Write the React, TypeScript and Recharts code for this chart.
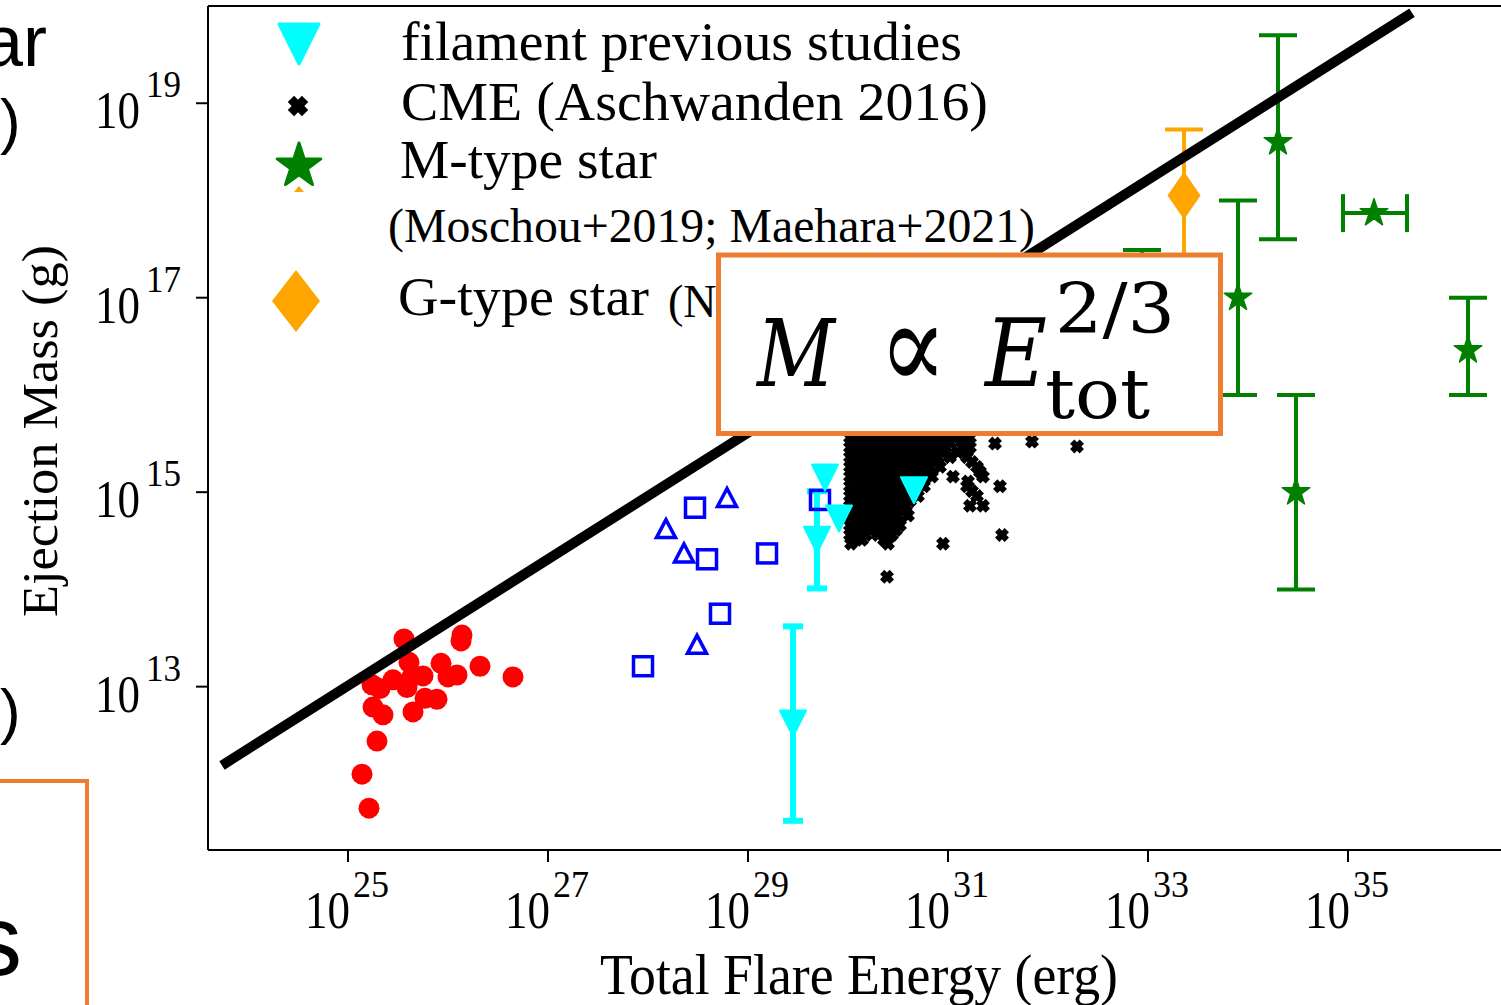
import React from 'react';
import { ScatterChart, Scatter, XAxis, YAxis, ErrorBar, ReferenceLine } from 'recharts';

// All values are base-10 exponents: energy in erg, mass in g.

// solar flares (red dots)
const flareE = [25.56, 26.14, 26.13, 25.61, 25.93, 26.32, 26.65, 25.45, 25.24, 25.32, 25.59, 25.75, 26.0, 26.09, 25.64, 25.25, 25.35, 25.65, 25.77, 25.89, 25.29, 25.14, 25.21];
const flareM = [13.49, 13.53, 13.47, 13.25, 13.24, 13.21, 13.1, 13.07, 13.02, 12.98, 12.99, 13.11, 13.1, 13.12, 13.1, 12.79, 12.71, 12.74, 12.88, 12.87, 12.44, 12.1, 11.75];

// filament eruptions (open blue squares / triangles)
const squareE = [28.47, 28.59, 29.19, 28.72, 27.95, 29.72];
const squareM = [14.84, 14.31, 14.37, 13.75, 13.21, 14.92];
const triE = [28.79, 28.18, 28.36, 28.49];
const triM = [14.94, 14.62, 14.37, 13.43];

// filament previous studies (cyan)
const filE = [29.77, 29.91, 30.66];
const filM = [15.15, 14.73, 15.02];
const filBarE = [29.69, 29.45];
const filBarM = [14.51, 12.62];
const filBarErr = [0.5, 1.0];

// CME (Aschwanden 2016), listed row by row in mass
const cmeRows: { m: number; e: number[] }[] = [
  { m: 16.35, e: [30.5] },
  { m: 16.15, e: [30.35, 30.6] },
  { m: 15.98, e: [30.2, 30.4, 30.6, 30.8] },
  { m: 15.82, e: [30.1, 30.25, 30.4, 30.55, 30.7, 30.85, 31.0] },
  { m: 15.68, e: [30.05, 30.15, 30.25, 30.35, 30.45, 30.55, 30.65, 30.75, 30.85, 30.95, 31.05] },
  { m: 15.56, e: [30.02, 30.1, 30.18, 30.26, 30.34, 30.42, 30.5, 30.58, 30.66, 30.74, 30.82, 30.9, 30.98, 31.06, 31.14, 31.22] },
  { m: 15.51, e: [30.06, 30.14, 30.22, 30.3, 30.38, 30.46, 30.54, 30.62, 30.7, 30.78, 30.86, 30.94, 31.02, 31.18] },
  { m: 15.46, e: [30.02, 30.1, 30.18, 30.26, 30.34, 30.42, 30.5, 30.58, 30.66, 30.74, 30.82, 30.9, 30.98, 31.14, 31.22] },
  { m: 15.41, e: [30.06, 30.14, 30.22, 30.3, 30.38, 30.46, 30.54, 30.62, 30.7, 30.78, 30.86, 30.94, 31.1] },
  { m: 15.36, e: [30.02, 30.1, 30.18, 30.26, 30.34, 30.42, 30.5, 30.58, 30.66, 30.74, 30.82, 30.9, 31.02, 31.19] },
  { m: 15.31, e: [30.06, 30.14, 30.22, 30.3, 30.38, 30.46, 30.54, 30.62, 30.7, 30.78, 30.86, 31.24] },
  { m: 15.26, e: [30.02, 30.1, 30.18, 30.26, 30.34, 30.42, 30.5, 30.58, 30.66, 30.74, 30.82, 30.92, 31.29] },
  { m: 15.21, e: [30.06, 30.14, 30.22, 30.3, 30.38, 30.46, 30.54, 30.62, 30.7, 30.78, 31.32] },
  { m: 15.16, e: [30.02, 30.1, 30.18, 30.26, 30.34, 30.42, 30.5, 30.58, 30.66, 30.74, 30.84, 31.05, 31.35] },
  { m: 15.11, e: [30.06, 30.14, 30.22, 30.3, 30.38, 30.46, 30.54, 30.62, 30.7, 31.2] },
  { m: 15.06, e: [30.02, 30.1, 30.18, 30.26, 30.34, 30.42, 30.5, 30.58, 30.66, 30.76, 31.19, 31.52] },
  { m: 15.01, e: [30.06, 30.14, 30.22, 30.3, 30.38, 30.46, 30.54, 30.64, 31.24] },
  { m: 14.96, e: [30.02, 30.1, 30.18, 30.26, 30.34, 30.42, 30.5, 30.58, 30.7, 31.29] },
  { m: 14.91, e: [30.06, 30.14, 30.22, 30.3, 30.38, 30.46, 30.54, 30.62] },
  { m: 14.86, e: [30.02, 30.1, 30.18, 30.26, 30.34, 30.42, 30.5, 30.58, 31.22, 31.35] },
  { m: 14.81, e: [30.06, 30.14, 30.22, 30.3, 30.38, 30.46, 30.54] },
  { m: 14.76, e: [30.02, 30.1, 30.18, 30.26, 30.34, 30.42, 30.5, 30.6] },
  { m: 14.71, e: [30.06, 30.14, 30.22, 30.3, 30.38, 30.46] },
  { m: 14.66, e: [30.02, 30.1, 30.18, 30.26, 30.34, 30.42, 30.52] },
  { m: 14.61, e: [30.06, 30.14, 30.22, 30.34, 30.48] },
  { m: 14.56, e: [30.02, 30.1, 30.18, 30.3, 30.44, 31.54] },
  { m: 14.51, e: [30.06, 30.14, 30.36] },
  { m: 14.47, e: [30.03, 30.4, 30.95] },
  { m: 14.13, e: [30.39] },
];
const cmeLooseE = [31.47, 31.84, 32.29];
const cmeLooseM = [15.5, 15.52, 15.47];

// M-type stars, vertical error bars
const mStarE = [32.94, 33.9, 34.3, 34.48, 36.2];
const mStarM = [16.99, 17.0, 18.6, 15.0, 16.46];
const mStarLo = [0.5, 1.0, 1.0, 1.0, 0.46];
const mStarHi = [0.5, 1.0, 1.1, 1.0, 0.54];
// M-type star with a horizontal error bar
const mStarXE = [35.26];
const mStarXM = [17.87];
const mStarXLo = [0.31];
const mStarXHi = [0.33];

// G-type star
const gStarE = [33.36];
const gStarM = [18.05];
const gStarErr = [0.68];

// M ∝ E^(2/3) guide line end points
const fitE = [23.74, 35.64];
const fitM = [12.19, 19.93];

const xTicks = [25, 27, 29, 31, 33, 35];
const yTicks = [13, 15, 17, 19];
const xDomain: [number, number] = [23.6, 36.62];
const yDomain: [number, number] = [11.32, 20];

const pts = (es: number[], ms: number[]) => es.map((e, i) => ({ e, m: ms[i] }));
const flares = pts(flareE, flareM);
const squares = pts(squareE, squareM);
const tris = pts(triE, triM);
const filaments = pts(filE, filM);
const filamentBars = filBarE.map((e, i) => ({ e, m: filBarM[i], err: filBarErr[i] }));
const cme = [
  ...cmeRows.flatMap((row) => row.e.map((e) => ({ e, m: row.m }))),
  ...pts(cmeLooseE, cmeLooseM),
];
const mStars = mStarE.map((e, i) => ({ e, m: mStarM[i], err: [mStarLo[i], mStarHi[i]] }));
const mStarsX = mStarXE.map((e, i) => ({ e, m: mStarXM[i], err: [mStarXLo[i], mStarXHi[i]] }));
const gStars = gStarE.map((e, i) => ({ e, m: gStarM[i], err: gStarErr[i] }));
const fitLine = pts(fitE, fitM);

const serif = '"Liberation Serif", "Times New Roman", serif';
const sans = '"Liberation Sans", Arial, sans-serif';
const mathFont = '"DejaVu Serif", "DejaVu Sans", serif';

const RED = '#ff0000';
const BLUE = '#0000ff';
const CYAN = '#00ffff';
const GREEN = '#008000';
const ORANGE = '#ffa500';
const BOX = '#ed7d31';

// marker geometry helpers
const starPoints = (cx: number, cy: number, R: number) => {
  const r = R * 0.382;
  const out: string[] = [];
  for (let i = 0; i < 10; i++) {
    const rad = i % 2 === 0 ? R : r;
    const a = -Math.PI / 2 + (i * Math.PI) / 5;
    out.push(`${cx + rad * Math.cos(a)},${cy + rad * Math.sin(a)}`);
  }
  return out.join(' ');
};

// filled "X": a plus sign turned by 45 degrees
const crossPoints = (cx: number, cy: number, h: number) => {
  const w = h * 0.45;
  const plus = [
    [w, h], [w, w], [h, w], [h, -w], [w, -w], [w, -h],
    [-w, -h], [-w, -w], [-h, -w], [-h, w], [-w, w], [-w, h],
  ];
  return plus
    .map(([x, y]) => `${cx + (x - y) / Math.SQRT2},${cy + (x + y) / Math.SQRT2}`)
    .join(' ');
};

const downTri = (cx: number, cy: number, s: number) =>
  `${cx - s},${cy - s} ${cx + s},${cy - s} ${cx},${cy + s}`;

const diamond = (cx: number, cy: number, w: number, h: number) =>
  `${cx},${cy - h} ${cx + w},${cy} ${cx},${cy + h} ${cx - w},${cy}`;

const RedDot = ({ cx, cy }: any) => <circle cx={cx} cy={cy} r={10.5} fill={RED} />;
const BlueSquare = ({ cx, cy }: any) => (
  <rect x={cx - 9.5} y={cy - 9.5} width={19} height={19} fill="none" stroke={BLUE} strokeWidth={3.5} />
);
const BlueTri = ({ cx, cy }: any) => (
  <polygon
    points={`${cx},${cy - 9.5} ${cx - 9.5},${cy + 8.5} ${cx + 9.5},${cy + 8.5}`}
    fill="none"
    stroke={BLUE}
    strokeWidth={3.5}
  />
);
const CyanTri = ({ cx, cy }: any) => (
  <polygon points={downTri(cx, cy, 13)} fill={CYAN} stroke={CYAN} strokeWidth={2} strokeLinejoin="round" />
);
const CmeCross = ({ cx, cy }: any) => <polygon points={crossPoints(cx, cy, 6.8)} fill="#000" />;
const GreenStar = ({ cx, cy }: any) => (
  <polygon points={starPoints(cx, cy, 14.5)} fill={GREEN} stroke={GREEN} strokeWidth={1.5} strokeLinejoin="round" />
);
const OrangeDiamond = ({ cx, cy }: any) => <polygon points={diamond(cx, cy, 16.5, 24)} fill={ORANGE} />;
const NoMark = () => <g />;

const XTick = ({ x, y, payload }: any) => (
  <g fontFamily={serif} fill="#000">
    <text x={x + 2} y={y + 64} textAnchor="end" fontSize={52} textLength={45} lengthAdjust="spacingAndGlyphs">
      10
    </text>
    <text x={x + 5} y={y + 33} fontSize={37} textLength={36} lengthAdjust="spacingAndGlyphs">
      {payload.value}
    </text>
  </g>
);

const YTick = ({ x, y, payload }: any) => (
  <g fontFamily={serif} fill="#000">
    <text x={x - 54} y={y + 25} textAnchor="end" fontSize={52} textLength={45} lengthAdjust="spacingAndGlyphs">
      10
    </text>
    <text x={x - 48} y={y - 6} fontSize={37} textLength={35} lengthAdjust="spacingAndGlyphs">
      {payload.value}
    </text>
  </g>
);

const Overlay = () => (
  <svg width={1501} height={1005} style={{ position: 'absolute', left: 0, top: 0, pointerEvents: 'none' }}>
    {/* neighbouring slide content on the left */}
    <g fontFamily={sans} fill="#000">
      <text x={47} y={66} textAnchor="end" fontSize={72}>ar</text>
      <text x={0} y={142} fontSize={62}>)</text>
      <text x={0} y={732} fontSize={62}>)</text>
      <text x={22} y={975} textAnchor="end" fontSize={100}>s</text>
    </g>
    <rect x={-10} y={781} width={97} height={240} fill="none" stroke={BOX} strokeWidth={4} />

    {/* axis titles */}
    <text
      x={859}
      y={994}
      textAnchor="middle"
      fontFamily={serif}
      fontSize={56}
      textLength={518}
      lengthAdjust="spacingAndGlyphs"
    >
      Total Flare Energy (erg)
    </text>
    <text
      transform="translate(57 431) rotate(-90)"
      textAnchor="middle"
      fontFamily={serif}
      fontSize={50}
      textLength={372}
      lengthAdjust="spacingAndGlyphs"
    >
      Ejection Mass (g)
    </text>

    {/* legend */}
    <polygon points={downTri(299, 44, 20)} fill={CYAN} stroke={CYAN} strokeWidth={3} strokeLinejoin="round" />
    <polygon points={crossPoints(298, 106, 10)} fill="#000" />
    <polygon points={starPoints(299, 166, 23)} fill={GREEN} stroke={GREEN} strokeWidth={3} strokeLinejoin="round" />
    <polygon points="299,186 294,192 304,192" fill={ORANGE} />
    <polygon points={diamond(296, 301, 24, 31)} fill={ORANGE} />
    <g fontFamily={serif} fill="#000">
      <text x={401} y={60} fontSize={55} textLength={561} lengthAdjust="spacingAndGlyphs">
        filament previous studies
      </text>
      <text x={401} y={120} fontSize={55} textLength={587} lengthAdjust="spacingAndGlyphs">
        CME (Aschwanden 2016)
      </text>
      <text x={400} y={178} fontSize={55} textLength={257} lengthAdjust="spacingAndGlyphs">
        M-type star
      </text>
      <text x={388} y={242} fontSize={48} textLength={647} lengthAdjust="spacingAndGlyphs">
        (Moschou+2019; Maehara+2021)
      </text>
      <text x={398} y={315} fontSize={55} textLength={251} lengthAdjust="spacingAndGlyphs">
        G-type star
      </text>
      <text x={668} y={317} fontSize={46}>
        (N
      </text>
    </g>

    {/* scaling relation box */}
    <rect x={718.5} y={255} width={502} height={178.5} fill="#fff" stroke={BOX} strokeWidth={5} />
    <g fontFamily={mathFont} fill="#000">
      <text x={757} y={386} fontSize={94} fontStyle="italic" textLength={78} lengthAdjust="spacingAndGlyphs">
        M
      </text>
      <text x={879} y={389} fontSize={124} textLength={68} lengthAdjust="spacingAndGlyphs">
        ∝
      </text>
      <text x={985} y={386} fontSize={94} fontStyle="italic" textLength={62} lengthAdjust="spacingAndGlyphs">
        E
      </text>
      <text x={1055} y={333} fontSize={70} textLength={120} lengthAdjust="spacingAndGlyphs">
        2/3
      </text>
      <text x={1045} y={418} fontSize={70} textLength={105} lengthAdjust="spacingAndGlyphs">
        tot
      </text>
    </g>
  </svg>
);

const App = () => {
  return (
    <div
      style={{
        position: 'absolute',
        left: 0,
        top: 0,
        width: 1501,
        height: 1005,
        overflow: 'hidden',
        background: '#fff',
      }}
    >
      <ScatterChart width={1530} height={1005} margin={{ top: 6, right: 20, bottom: 15, left: 8 }}>
        <XAxis
          type="number"
          dataKey="e"
          domain={xDomain}
          allowDataOverflow
          ticks={xTicks}
          interval={0}
          height={140}
          tickSize={12}
          axisLine={{ stroke: '#000', strokeWidth: 2 }}
          tickLine={{ stroke: '#000', strokeWidth: 2 }}
          tick={(p: any) => <XTick {...p} />}
        />
        <YAxis
          type="number"
          dataKey="m"
          domain={yDomain}
          allowDataOverflow
          ticks={yTicks}
          interval={0}
          width={200}
          tickSize={12}
          axisLine={{ stroke: '#000', strokeWidth: 2 }}
          tickLine={{ stroke: '#000', strokeWidth: 2 }}
          tick={(p: any) => <YTick {...p} />}
        />
        <ReferenceLine y={yDomain[1]} stroke="#000" strokeWidth={2} />
        <ReferenceLine x={xDomain[1]} stroke="#000" strokeWidth={2} />

        <Scatter data={flares} shape={RedDot} isAnimationActive={false} />
        <Scatter data={squares} shape={BlueSquare} isAnimationActive={false} />
        <Scatter data={tris} shape={BlueTri} isAnimationActive={false} />
        <Scatter data={cme} shape={CmeCross} isAnimationActive={false} />
        <Scatter data={filaments} shape={CyanTri} isAnimationActive={false} />
        <Scatter data={filamentBars} shape={CyanTri} isAnimationActive={false}>
          <ErrorBar dataKey="err" direction="y" width={10} stroke={CYAN} strokeWidth={6} isAnimationActive={false} />
        </Scatter>
        <Scatter data={mStars} shape={GreenStar} isAnimationActive={false}>
          <ErrorBar dataKey="err" direction="y" width={19} stroke={GREEN} strokeWidth={4} isAnimationActive={false} />
        </Scatter>
        <Scatter data={mStarsX} shape={GreenStar} isAnimationActive={false}>
          <ErrorBar dataKey="err" direction="x" width={19} stroke={GREEN} strokeWidth={4} isAnimationActive={false} />
        </Scatter>
        <Scatter data={gStars} shape={OrangeDiamond} isAnimationActive={false}>
          <ErrorBar dataKey="err" direction="y" width={19} stroke={ORANGE} strokeWidth={4} isAnimationActive={false} />
        </Scatter>
        <Scatter
          data={fitLine}
          shape={NoMark}
          line={{ stroke: '#000', strokeWidth: 10 }}
          lineType="joint"
          isAnimationActive={false}
        />
      </ScatterChart>
      <Overlay />
    </div>
  );
};

export default App;
